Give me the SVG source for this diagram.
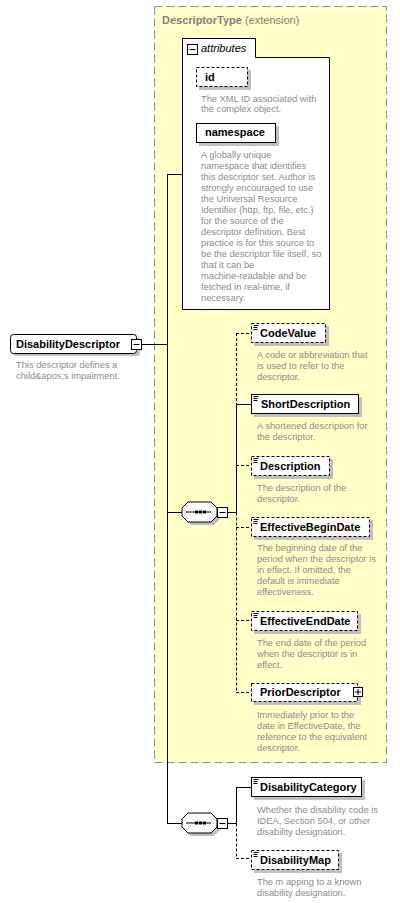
<svg xmlns="http://www.w3.org/2000/svg" width="400" height="903" viewBox="0 0 400 903">
<style>
.lbl{font-family:"Liberation Sans",Arial,sans-serif;font-size:11px;font-weight:bold;fill:#000}
.desc{font-family:"Liberation Sans",Arial,sans-serif;font-size:9.3px;fill:#8c8c8c}
.box{fill:#fff;stroke:#000;stroke-width:1}
.opt{fill:#fff;stroke:#000;stroke-width:1;stroke-dasharray:3,2}
.sh{fill:#c0c0c0}
.ln{stroke:#000;stroke-width:1;fill:none}
.dl{stroke:#000;stroke-width:1;fill:none;stroke-dasharray:3,2}
.ic{stroke:#000;stroke-width:1}
</style>
<defs>
<g id="elicon"><path d="M2.5,2.5h5M2.5,4.5h4M2.5,6.5h4" stroke="#000" stroke-width="1"/></g>
<g id="seq">
<polygon points="9,3 32,3 38,9 38,17 32,23 9,23 3,17 3,9" class="sh"/>
<polygon points="6,0 29,0 35,6 35,14 29,20 6,20 0,14 0,6" fill="#fff" stroke="#000"/>
<path d="M4,10H29" stroke="#000"/>
<rect x="13" y="8.5" width="3" height="3" fill="#000"/>
<rect x="17" y="8.5" width="3" height="3" fill="#000"/>
<rect x="21" y="8.5" width="3" height="3" fill="#000"/>
<rect x="35.5" y="5.5" width="10" height="10" fill="#fff" stroke="#000"/>
<path d="M37.5,10.5h6" stroke="#000"/>
</g>
</defs>

<g id="DescriptorType">
<rect x="154.5" y="6.5" width="232" height="756" fill="#ffffc8" stroke="#8c8c8c" stroke-dasharray="8,4"/>
<text x="162" y="24" font-family="Liberation Sans,Arial,sans-serif" font-size="11" fill="#808080"><tspan font-weight="bold">DescriptorType</tspan> (extension)</text>
</g>

<g id="connectors">
<path class="ln" d="M141,344.5H167.5M167.5,174V823M167,174.5H182M167,512.5H182M167,823.5H182"/>
<path class="ln" d="M227,512.5H236.5M236.5,404V512.5M236,404.5H251"/>
<path class="dl" d="M236.5,333V404M236.5,512.5V692.5M236,333.5H251M236,465.5H251M236,527.5H251M236,620.5H251M236,692.5H251"/>
<path class="ln" d="M227,823.5H236.5M236.5,787V823.5M236,787.5H251"/>
<path class="dl" d="M236.5,823.5V858.5M236,858.5H251"/>
</g>

<g id="DisabilityDescriptor">
<rect x="13" y="337" width="127" height="19" rx="3" class="sh"/>
<rect x="10.5" y="334.5" width="126" height="19" rx="3" class="box"/>
<text x="16" y="348" class="lbl">DisabilityDescriptor</text>
<rect x="131.5" y="339.5" width="10" height="10" fill="#fff" stroke="#000"/>
<path d="M133.5,344.5h6" stroke="#000"/>
<text class="desc"><tspan x="16" y="368">This descriptor defines a</tspan><tspan x="16" y="379">child&amp;apos;s impairment.</tspan></text>
</g>

<g id="attributes">
<path d="M182.5,309.5V38.5H255.5V57.5H329.5V309.5Z" fill="#fff" stroke="#000"/>
<rect x="187.5" y="44.5" width="10" height="10" fill="#fff" stroke="#000"/>
<path d="M189.5,49.5h6" stroke="#000"/>
<text x="201" y="52" font-family="Liberation Sans,Arial,sans-serif" font-size="11" font-style="italic">attributes</text>
</g>

<g id="attr-id">
<rect x="199" y="70" width="52" height="20" class="sh"/>
<rect x="196.5" y="67.5" width="51" height="19" class="opt"/>
<text x="205" y="81" class="lbl">id</text>
<text class="desc"><tspan x="201" y="102">The XML ID associated with</tspan><tspan x="201" y="112">the complex object.</tspan></text>
</g>

<g id="attr-namespace">
<rect x="199" y="126" width="80" height="20" class="sh"/>
<rect x="196.5" y="123.5" width="79" height="19" class="box"/>
<text x="205" y="136" class="lbl">namespace</text>
<text class="desc"><tspan x="201" y="158">A globally unique</tspan><tspan x="201" y="169">namespace that identifies</tspan><tspan x="201" y="180">this descriptor set. Author is</tspan><tspan x="201" y="191">strongly encouraged to use</tspan><tspan x="201" y="202">the Universal Resource</tspan><tspan x="201" y="213">Identifier (http, ftp, file, etc.)</tspan><tspan x="201" y="224">for the source of the</tspan><tspan x="201" y="235">descriptor definition. Best</tspan><tspan x="201" y="246">practice is for this source to</tspan><tspan x="201" y="257">be the descriptor file itself, so</tspan><tspan x="201" y="268">that it can be</tspan><tspan x="201" y="279">machine-readable and be</tspan><tspan x="201" y="290">fetched in real-time, if</tspan><tspan x="201" y="301">necessary.</tspan></text>
</g>

<g id="seq1"><use href="#seq" x="182" y="502"/></g>

<g id="CodeValue">
<rect x="254" y="326" width="75" height="20" class="sh"/>
<rect x="251.5" y="323.5" width="74" height="19" class="opt"/>
<use href="#elicon" x="251" y="323"/>
<text x="260" y="337" class="lbl">CodeValue</text>
<text class="desc"><tspan x="257" y="358">A code or abbreviation that</tspan><tspan x="257" y="369">is used to refer to the</tspan><tspan x="257" y="380">descriptor.</tspan></text>
</g>

<g id="ShortDescription">
<rect x="254" y="397" width="108" height="20" class="sh"/>
<rect x="251.5" y="394.5" width="107" height="19" class="box"/>
<use href="#elicon" x="251" y="394"/>
<text x="261" y="408" class="lbl">ShortDescription</text>
<text class="desc"><tspan x="257" y="429">A shortened description for</tspan><tspan x="257" y="440">the descriptor.</tspan></text>
</g>

<g id="Description">
<rect x="254" y="459" width="79" height="20" class="sh"/>
<rect x="251.5" y="456.5" width="78" height="19" class="opt"/>
<use href="#elicon" x="251" y="456"/>
<text x="260" y="470" class="lbl">Description</text>
<text class="desc"><tspan x="257" y="491">The description of the</tspan><tspan x="257" y="502">descriptor.</tspan></text>
</g>

<g id="EffectiveBeginDate">
<rect x="254" y="520" width="119" height="20" class="sh"/>
<rect x="251.5" y="517.5" width="118" height="19" class="opt"/>
<use href="#elicon" x="251" y="517"/>
<text x="260" y="531" class="lbl">EffectiveBeginDate</text>
<text class="desc"><tspan x="257" y="551">The beginning date of the</tspan><tspan x="257" y="562">period when the descriptor is</tspan><tspan x="257" y="573">in effect. If omitted, the</tspan><tspan x="257" y="584">default is immediate</tspan><tspan x="257" y="595">effectiveness.</tspan></text>
</g>

<g id="EffectiveEndDate">
<rect x="254" y="614" width="107" height="20" class="sh"/>
<rect x="251.5" y="611.5" width="106" height="19" class="opt"/>
<use href="#elicon" x="251" y="611"/>
<text x="260" y="625" class="lbl">EffectiveEndDate</text>
<text class="desc"><tspan x="257" y="646">The end date of the period</tspan><tspan x="257" y="657">when the descriptor is in</tspan><tspan x="257" y="668">effect.</tspan></text>
</g>

<g id="PriorDescriptor">
<rect x="254" y="686" width="107" height="19" class="sh"/>
<rect x="251.5" y="683.5" width="106" height="18" class="opt"/>
<text x="260" y="696" class="lbl">PriorDescriptor</text>
<rect x="353.5" y="687.5" width="9" height="9" fill="#fff" stroke="#000"/>
<path d="M355,692h6M358,689v6" stroke="#000"/>
<text class="desc"><tspan x="257" y="718">Immediately prior to the</tspan><tspan x="257" y="729">date in EffectiveDate, the</tspan><tspan x="257" y="740">reference to the equivalent</tspan><tspan x="257" y="751">descriptor.</tspan></text>
</g>

<g id="seq2"><use href="#seq" x="182" y="813"/></g>

<g id="DisabilityCategory">
<rect x="254" y="780" width="111" height="20" class="sh"/>
<rect x="251.5" y="777.5" width="110" height="19" class="box"/>
<use href="#elicon" x="251" y="777"/>
<text x="260" y="791" class="lbl">DisabilityCategory</text>
<text class="desc"><tspan x="257" y="813">Whether the disability code is</tspan><tspan x="257" y="824">IDEA, Section 504, or other</tspan><tspan x="257" y="835">disability designation.</tspan></text>
</g>

<g id="DisabilityMap">
<rect x="254" y="853" width="88" height="20" class="sh"/>
<rect x="251.5" y="850.5" width="87" height="19" class="opt"/>
<use href="#elicon" x="251" y="850"/>
<text x="260" y="864" class="lbl">DisabilityMap</text>
<text class="desc"><tspan x="257" y="885">The m apping to a known</tspan><tspan x="257" y="896">disability designation.</tspan></text>
</g>
</svg>
